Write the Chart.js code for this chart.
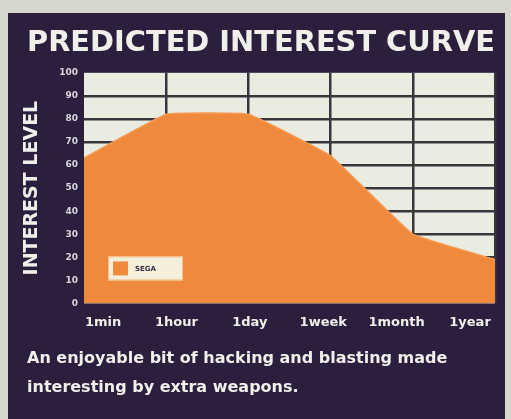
<!DOCTYPE html>
<html>
<head>
<meta charset="utf-8">
<script src="https://cdn.jsdelivr.net/npm/chart.js@4"></script>
<style>
  html, body { margin: 0; padding: 0; width: 511px; height: 419px; overflow: hidden; background: #d6d6cf; }
  #panel { position: absolute; left: 8px; top: 13px; width: 497px; height: 406px; background: #2c1f3e; }
  canvas { display: block; }
</style>
</head>
<body>
<div id="panel"><canvas id="chart" width="497" height="406"></canvas></div>
<script>
// Time since first play, and the interest level expected at each point
const periods = ['1min', '1hour', '1day', '1week', '1month', '1year'];
const segaInterest = [63, 82, 82, 64, 30, 19];
const seriesName = 'SEGA';
const chartTitle = 'PREDICTED INTEREST CURVE';
const axisTitle = 'INTEREST LEVEL';
const captionLines = [
  'An enjoyable bit of hacking and blasting made',
  'interesting by extra weapons.'
];

const ORANGE = '#ef8a3d';
const GRID = '#38363a';
const CELL = '#e9ede1';
const TEXT = '#f1efea';
const FONT = '"DejaVu Sans", "Liberation Sans", Arial, sans-serif';

// light backing of the plotting grid
const plotBackground = {
  id: 'plotBackground',
  beforeDraw(chart) {
    const { ctx, chartArea: a } = chart;
    ctx.save();
    ctx.fillStyle = CELL;
    ctx.fillRect(a.left, a.top, a.right - a.left, a.bottom - a.top);
    ctx.restore();
  }
};

// small key box sitting inside the plot, lower left
const insetKey = {
  id: 'insetKey',
  afterDatasetsDraw(chart) {
    const { ctx, chartArea: a } = chart;
    const ds = chart.data.datasets[0];
    const x = a.left + 24, y = a.bottom - 47, w = 75, h = 24;
    ctx.save();
    ctx.fillStyle = '#f4efdc';
    ctx.fillRect(x, y, w, h);
    ctx.strokeStyle = '#f6c089';
    ctx.lineWidth = 1;
    ctx.strokeRect(x + 0.5, y + 0.5, w - 1, h - 1);
    ctx.fillStyle = ds.backgroundColor;
    ctx.fillRect(x + 5, y + 5, 15, 14);
    ctx.fillStyle = '#3a3040';
    ctx.font = 'bold 7px ' + FONT;
    ctx.textBaseline = 'middle';
    ctx.fillText(ds.label, x + 27, y + h / 2 + 0.5);
    ctx.restore();
  }
};

const edgeless = (ctx) => {
  const v = ctx.tick ? ctx.tick.value : null;
  return (v === 0 || v === 100) ? 'rgba(0,0,0,0)' : GRID;
};

new Chart(document.getElementById('chart'), {
  type: 'line',
  data: {
    datasets: [{
      label: seriesName,
      data: segaInterest.map((v, i) => ({ x: i, y: v })),
      backgroundColor: ORANGE,
      borderColor: '#f49a55',
      borderWidth: 1.5,
      fill: 'origin',
      pointRadius: 0,
      tension: 0.08,
      xAxisID: 'x',
      yAxisID: 'y'
    }]
  },
  options: {
    responsive: false,
    animation: false,
    events: [],
    layout: { padding: { left: 19, right: 10, top: 0, bottom: 0 } },
    plugins: {
      legend: { display: false },
      tooltip: { enabled: false },
      title: {
        display: true,
        text: chartTitle,
        color: TEXT,
        font: { family: FONT, size: 29, weight: 'bold' },
        padding: { top: 13, bottom: 12 }
      },
      subtitle: {
        display: true,
        position: 'bottom',
        align: 'start',
        text: captionLines,
        color: TEXT,
        font: { family: FONT, size: 16, weight: 'bold', lineHeight: '29px' },
        padding: { top: 3, bottom: 17 }
      }
    },
    scales: {
      x: {
        type: 'linear',
        position: 'bottom',
        min: 0,
        max: periods.length - 1,
        afterBuildTicks(scale) {
          scale.ticks = periods.map((_, i) => ({ value: i }));
        },
        ticks: { display: false },
        grid: {
          color: (ctx) => (ctx.tick && ctx.tick.value === 0) ? 'rgba(0,0,0,0)' : GRID,
          lineWidth: 2.5,
          drawTicks: false
        },
        border: { display: false }
      },
      xl: {
        type: 'linear',
        position: 'bottom',
        min: -0.26,
        max: periods.length - 1 + 0.34,
        afterBuildTicks(scale) {
          scale.ticks = periods.map((_, i) => ({ value: i }));
        },
        ticks: {
          autoSkip: false,
          maxRotation: 0,
          padding: 11,
          color: TEXT,
          font: { family: FONT, size: 13, weight: 'bold' },
          callback: (v) => periods[v]
        },
        grid: { display: false, drawTicks: false },
        border: { display: false }
      },
      y: {
        min: 0,
        max: 100,
        afterFit(scale) { scale.width = 57; },
        ticks: {
          stepSize: 10,
          padding: 6,
          color: '#d9d6dd',
          font: { family: FONT, size: 9, weight: 'bold' }
        },
        grid: { color: edgeless, lineWidth: 2.5, drawTicks: false },
        border: { display: false },
        title: {
          display: true,
          text: axisTitle,
          color: TEXT,
          font: { family: FONT, size: 19, weight: 'bold' },
          padding: { top: -6, bottom: 0 }
        }
      }
    }
  },
  plugins: [plotBackground, insetKey]
});
</script>
</body>
</html>
